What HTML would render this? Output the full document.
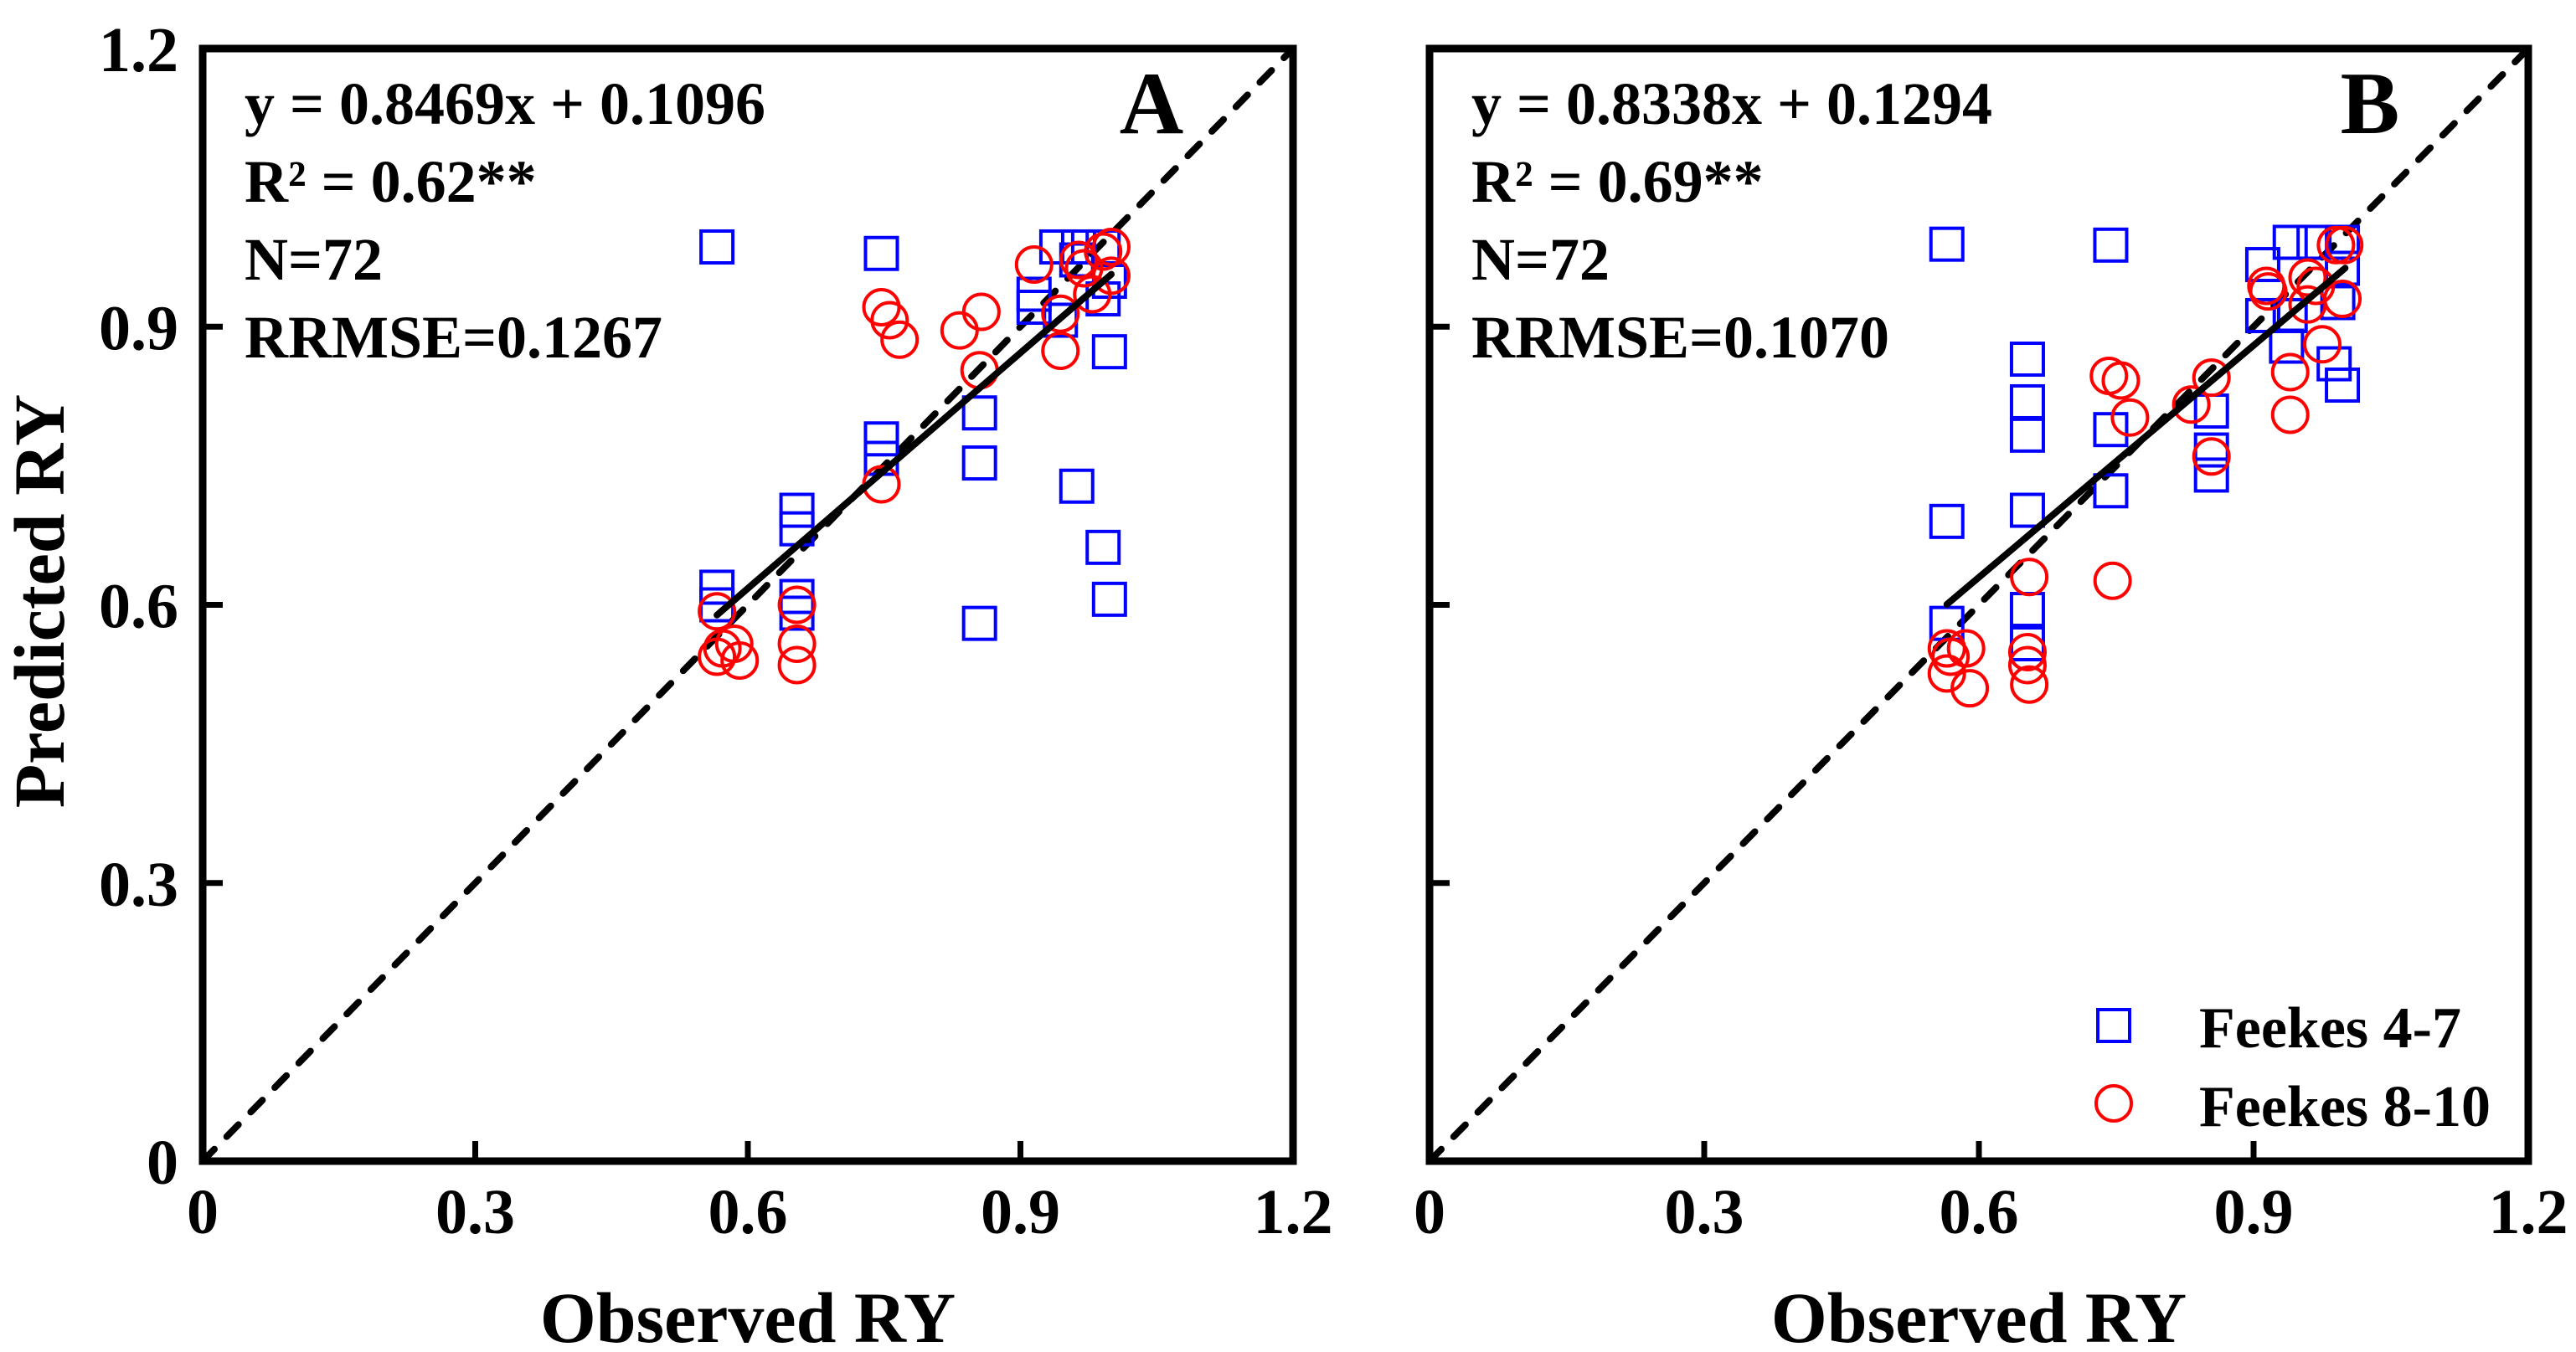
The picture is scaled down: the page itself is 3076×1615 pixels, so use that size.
<!DOCTYPE html>
<html><head><meta charset="utf-8"><style>
html,body{margin:0;padding:0;background:#fff;}
svg{display:block;font-family:"Liberation Serif",serif;font-weight:bold;}
</style></head><body>
<svg id="chart" width="3076" height="1615" viewBox="0 0 3076 1615" xmlns="http://www.w3.org/2000/svg">
<g id="layer"></g>
</svg>
<script>
const xTicks = [0, 0.3, 0.6, 0.9, 1.2];
const yTicks = [0, 0.3, 0.6, 0.9, 1.2];
const tickLabels = ["0", "0.3", "0.6", "0.9", "1.2"];
const panelNames = ["A", "B"];
const slopes = [0.8469, 0.8338];
const intercepts = [0.1096, 0.1294];
const fitRange = [[0.566, 1.0], [0.565, 1.0]];
const eqTexts = ["y = 0.8469x + 0.1096", "y = 0.8338x + 0.1294"];
const r2Texts = ["R² = 0.62**", "R² = 0.69**"];
const nTexts = ["N=72", "N=72"];
const rrmseTexts = ["RRMSE=0.1267", "RRMSE=0.1070"];

const aSqX = [0.566,0.747,0.747,0.747,0.654,0.654,0.566,0.566,0.654,0.654,0.855,0.855,0.855,0.962,0.991,0.998,0.998,0.915,0.915,0.94,0.964,0.991,0.998,0.991,0.944,0.962];
const aSqY = [0.986,0.979,0.779,0.758,0.702,0.682,0.619,0.600,0.609,0.591,0.807,0.753,0.580,0.728,0.662,0.606,0.873,0.935,0.921,0.986,0.986,0.986,0.949,0.930,0.907,0.972];
const aCiX = [0.566,0.566,0.572,0.585,0.591,0.654,0.654,0.654,0.747,0.756,0.767,0.747,0.833,0.857,0.855,0.915,0.944,0.944,0.964,0.970,0.979,1.0,1.0,0.991];
const aCiY = [0.593,0.544,0.553,0.558,0.540,0.600,0.558,0.535,0.921,0.907,0.886,0.730,0.896,0.916,0.853,0.967,0.914,0.874,0.972,0.963,0.935,0.986,0.955,0.981];
const bSqX = [0.565,0.744,0.653,0.653,0.653,0.653,0.565,0.744,0.744,0.854,0.854,0.854,0.653,0.653,0.565,0.997,0.988,0.91,0.91,0.94,0.966,0.997,0.997,0.992,0.936,0.94];
const bSqY = [0.989,0.988,0.865,0.819,0.783,0.702,0.690,0.789,0.723,0.809,0.767,0.740,0.595,0.558,0.580,0.837,0.860,0.967,0.912,0.991,0.991,0.991,0.963,0.926,0.879,0.912];
const bCiX = [0.565,0.586,0.569,0.565,0.590,0.655,0.653,0.653,0.655,0.746,0.742,0.755,0.765,0.832,0.854,0.854,0.914,0.916,0.94,0.94,0.959,0.968,0.959,0.975,0.99,0.999,0.997];
const bCiY = [0.553,0.553,0.544,0.526,0.510,0.630,0.549,0.535,0.514,0.626,0.847,0.842,0.802,0.816,0.845,0.760,0.944,0.938,0.851,0.805,0.953,0.944,0.924,0.881,0.988,0.988,0.930];

const squaresX = [aSqX, bSqX], squaresY = [aSqY, bSqY];
const circlesX = [aCiX, bCiX], circlesY = [aCiY, bCiY];

const NS = "http://www.w3.org/2000/svg";
const layer = document.getElementById("layer");
const panels = [{x0:242, x1:1544, y0:1387, y1:58}, {x0:1707, x1:3019, y0:1387, y1:58}];
function mk(tag, attrs, parent){const e=document.createElementNS(NS,tag);for(const k in attrs)e.setAttribute(k,attrs[k]);(parent||layer).appendChild(e);return e;}

panels.forEach((p, i) => {
  const sx = v => p.x0 + v / 1.2 * (p.x1 - p.x0);
  const sy = v => p.y0 - v / 1.2 * (p.y0 - p.y1);
  const g = mk("g", {});
  
  

  const d = mk("line", {x1:sx(0), y1:sy(0), x2:sx(1.2), y2:sy(1.2), stroke:"#000", "stroke-width":8, "stroke-dasharray":"20 21", "stroke-linecap":"round"}, g);
  
  

  squaresX[i].forEach((xv, k) => {
    const s = mk("rect", {x:sx(xv)-19, y:sy(squaresY[i][k])-19, width:38, height:38, fill:"none", stroke:"#0000ff", "stroke-width":4}, g);
    
    
  });
  circlesX[i].forEach((xv, k) => {
    const c = mk("circle", {cx:sx(xv), cy:sy(circlesY[i][k]), r:21, fill:"none", stroke:"#ff0000", "stroke-width":4}, g);
    
    
  });

  const fa = fitRange[i][0], fb = fitRange[i][1];
  const r = mk("line", {x1:sx(fa), y1:sy(slopes[i]*fa+intercepts[i]), x2:sx(fb), y2:sy(slopes[i]*fb+intercepts[i]), stroke:"#000", "stroke-width":8, "stroke-linecap":"round"}, g);
  
  

  const f = mk("rect", {x:p.x0, y:p.y1, width:p.x1-p.x0, height:p.y0-p.y1, fill:"none", stroke:"#000", "stroke-width":9}, g);
  
  

  xTicks.forEach((t, k) => {
    if (k > 0 && k < xTicks.length - 1) {
      const tk = mk("line", {x1:sx(t), y1:p.y0, x2:sx(t), y2:p.y0-24, stroke:"#000", "stroke-width":7}, g);
      
      
    }
    const lb = mk("text", {x:sx(t), y:1473, "text-anchor":"middle", "font-size":76}, g);
    lb.textContent = tickLabels[k];
    
    
  });
  yTicks.forEach((t, k) => {
    if (k > 0 && k < yTicks.length - 1) {
      const tk = mk("line", {x1:p.x0, y1:sy(t), x2:p.x0+24, y2:sy(t), stroke:"#000", "stroke-width":7}, g);
      
      
    }
    if (i === 0) {
      const lb = mk("text", {x:213, y:sy(t)+27, "text-anchor":"end", "font-size":76}, g);
      lb.textContent = tickLabels[k];
      
      
    }
  });

  const tx = p.x0 + 50;
  [eqTexts[i], r2Texts[i], nTexts[i], rrmseTexts[i]].forEach((s, k) => {
    const t = mk("text", {x:tx, y:148 + k*93, "font-size":72}, g);
    t.textContent = s;
    
    
  });
  const pl = mk("text", {x:p.x1-(i===0?169:189), y:159, "text-anchor":"middle", "font-size":106}, g);
  pl.textContent = panelNames[i];
  
  

  const xt = mk("text", {x:(p.x0+p.x1)/2, y:1603, "text-anchor":"middle", "font-size":86}, g);
  xt.textContent = "Observed RY";
  
  
});

const yt = mk("text", {x:0, y:0, "text-anchor":"middle", "font-size":86, transform:"translate(76,718) rotate(-90)"});
yt.textContent = "Predicted RY";



const lg = mk("g", {});


const ls = mk("rect", {x:2505, y:1206, width:38, height:38, fill:"none", stroke:"#0000ff", "stroke-width":4}, lg);


const lc = mk("circle", {cx:2524, cy:1318, r:21, fill:"none", stroke:"#ff0000", "stroke-width":4}, lg);


const lt1 = mk("text", {x:2626, y:1251, "font-size":70}, lg);
lt1.textContent = "Feekes 4-7";


const lt2 = mk("text", {x:2626, y:1345, "font-size":70}, lg);
lt2.textContent = "Feekes 8-10";


</script>
</body></html>
